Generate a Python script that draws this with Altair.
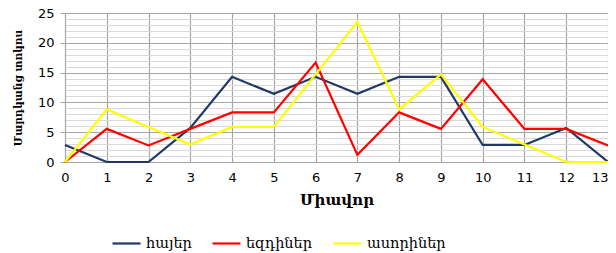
import altair as alt
import pandas as pd

points = list(range(14))
hayer = [2.86, 0, 0, 5.71, 14.29, 11.43, 14.29, 11.43, 14.29, 14.29, 2.86, 2.86, 5.71, 0]
ezdiner = [0, 5.56, 2.78, 5.56, 8.33, 8.33, 16.67, 1.2, 8.33, 5.56, 13.89, 5.56, 5.56, 2.78]
asoriner = [0, 8.82, 5.88, 2.94, 5.88, 5.88, 14.71, 23.53, 8.82, 14.71, 5.88, 2.94, 0, 0]
series_names = ["հայեր", "եզդիներ", "ասորիներ"]
colors = ["#1F3864", "#FF0000", "#FFFF00"]
y_ticks = list(range(0, 26))
x_ticks = points

rows = []
for name, vals in zip(series_names, [hayer, ezdiner, asoriner]):
    for p, v in zip(points, vals):
        rows.append({"point": p, "value": v, "series": name})
df = pd.DataFrame(rows)

serif = "DejaVu Serif"
sans = "DejaVu Sans"

chart = alt.Chart(df).mark_line(strokeWidth=2.2).encode(
    x=alt.X("point:Q", scale=alt.Scale(domain=[0, 13], nice=False),
            axis=alt.Axis(values=x_ticks, title="Միավոր", titleFont=serif, titleFontSize=15,
                          titleFontWeight="bold", titleColor="#000", titlePadding=8,
                          labelFont=sans, labelFontSize=13, labelColor="#000", labelPadding=9,
                          labelAlign=alt.condition("datum.value == 13", alt.value("right"), alt.value("center")),
                          grid=True, gridColor="#A6A6A6", gridWidth=1.2, tickSize=0,
                          domainColor="#A6A6A6", labelFlush=False)),
    y=alt.Y("value:Q", scale=alt.Scale(domain=[0, 25], nice=False),
            axis=alt.Axis(values=y_ticks, title="Մարդկանց տոկոս", titleFont=serif, titleFontSize=10.5,
                          titleFontWeight="bold", titleColor="#000", titlePadding=14,
                          labelExpr="datum.value % 5 == 0 ? datum.label : ''",
                          labelFont=sans, labelFontSize=13, labelColor="#000", labelPadding=6,
                          grid=True,
                          gridColor=alt.condition("datum.value % 5 == 0", alt.value("#A6A6A6"), alt.value("#D9D9D9")),
                          tickColor=alt.condition("datum.value % 5 == 0", alt.value("#A6A6A6"), alt.value("transparent")),
                          tickSize=5, domainColor="#A6A6A6")),
    color=alt.Color("series:N", sort=series_names,
                    scale=alt.Scale(domain=series_names, range=colors),
                    legend=alt.Legend(orient="none", legendX=46, legendY=215, direction="horizontal",
                                      title=None, symbolType="stroke", symbolSize=784,
                                      symbolStrokeWidth=2.2, labelFont=serif, labelFontSize=14.5,
                                      labelOffset=4, labelColor="#000", columnPadding=16, labelLimit=200)),
).properties(
    width=543, height=149,
    autosize=alt.AutoSizeParams(type="none"),
    padding={"left": 57, "top": 5, "right": 0, "bottom": 91},
).configure_view(stroke=None)

chart.save("out.html", embed_options={"renderer": "svg", "actions": False})
